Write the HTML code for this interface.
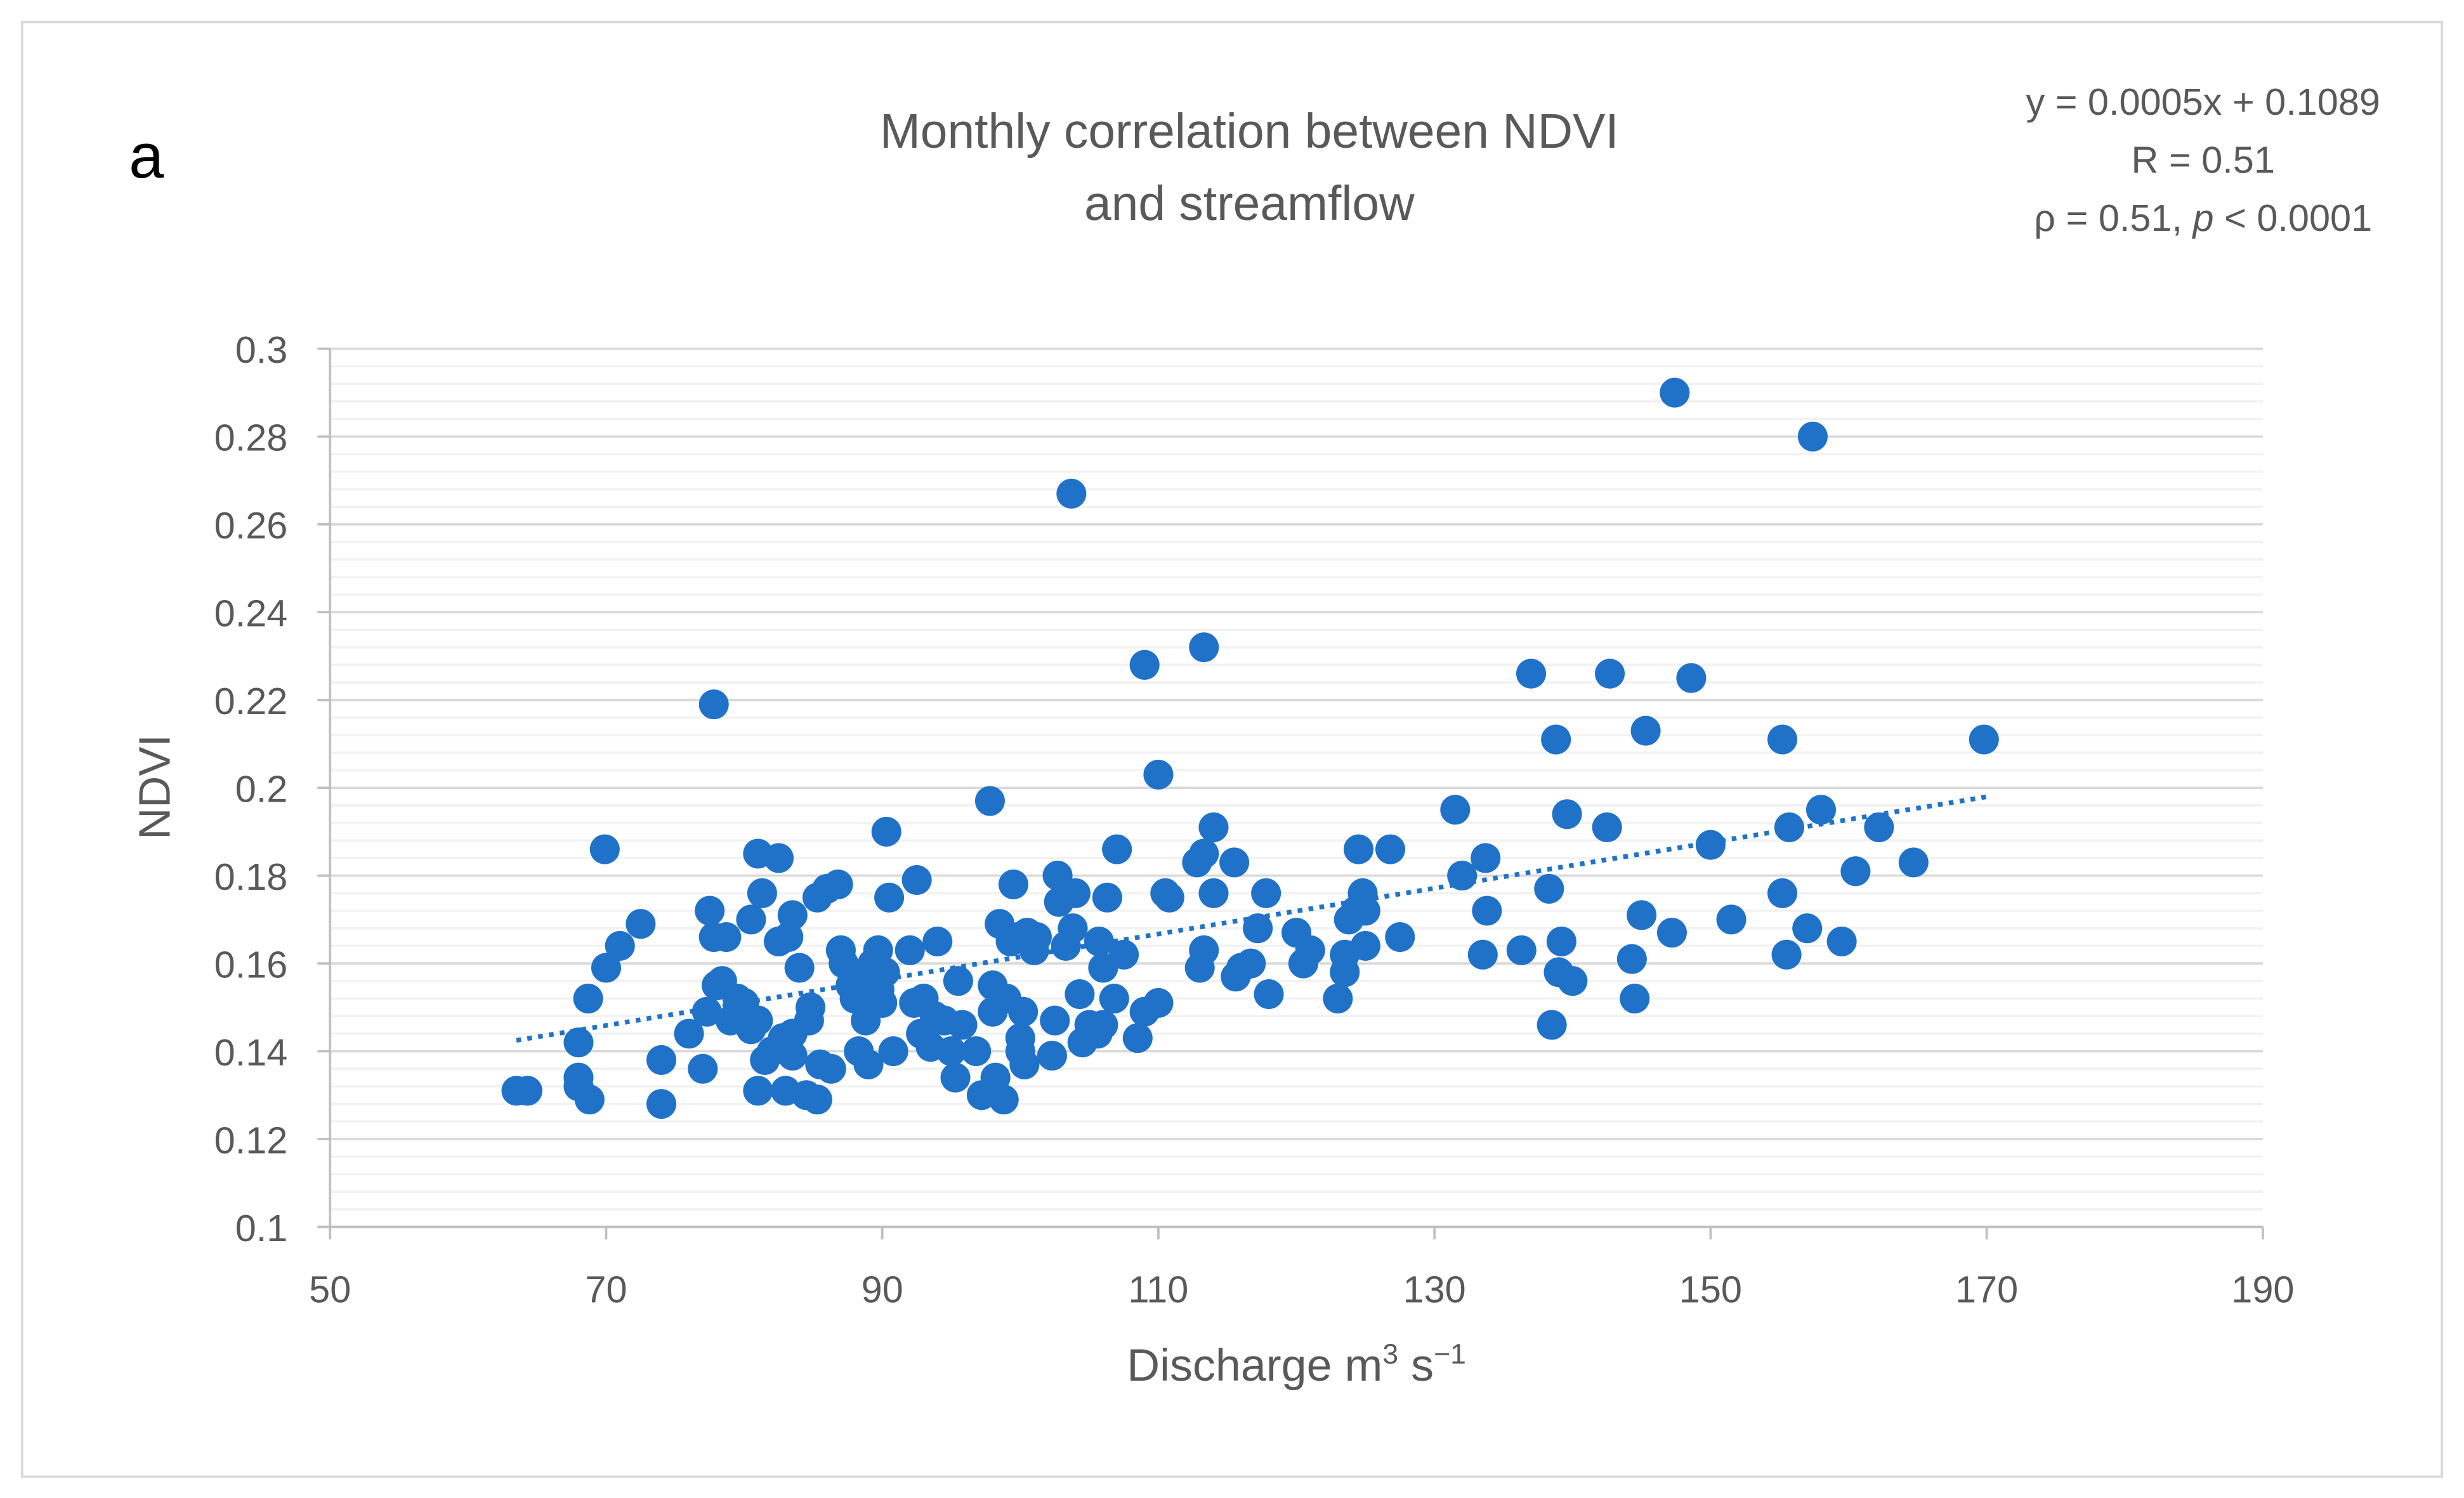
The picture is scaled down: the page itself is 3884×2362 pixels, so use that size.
<!DOCTYPE html>
<html><head><meta charset="utf-8"><style>html,body{margin:0;padding:0;background:#fff}svg{display:block}text{font-family:"Liberation Sans",sans-serif}</style></head>
<body>
<svg id="chart" width="3884" height="2362" viewBox="0 0 1568 953.6" xmlns="http://www.w3.org/2000/svg">
<rect x="14" y="14" width="1540" height="926" fill="#fff" stroke="#d9d9d9" stroke-width="1.5"/>
<text x="82" y="113" font-size="40" fill="#000">a</text>
<text x="795" y="94" font-size="31" fill="#595959" text-anchor="middle">Monthly correlation  between NDVI</text>
<text x="795" y="140" font-size="31" fill="#595959" text-anchor="middle">and streamflow</text>
<text x="1402" y="73" font-size="24" fill="#595959" text-anchor="middle">y = 0.0005x + 0.1089</text>
<text x="1402" y="110" font-size="24" fill="#595959" text-anchor="middle">R = 0.51</text>
<text x="1402" y="147" font-size="24" fill="#595959" text-anchor="middle">ρ = 0.51, <tspan font-style="italic">p</tspan> &lt; 0.0001</text>
<g id="grid"></g><g id="axes"></g><g id="trend"></g><g id="points"></g>
<text transform="translate(108,501) rotate(-90)" font-size="28" fill="#595959" text-anchor="middle">NDVI</text>
<text x="825" y="879" font-size="29" fill="#595959" text-anchor="middle">Discharge m<tspan font-size="18" dy="-11">3</tspan><tspan dy="11"> s</tspan><tspan font-size="18" dy="-11">−1</tspan></text>
</svg>
<script>
const xTicks=[50,70,90,110,130,150,170,190];
const yTicks=[0.1,0.12,0.14,0.16,0.18,0.2,0.22,0.24,0.26,0.28,0.3];
const yTickLabels=["0.1","0.12","0.14","0.16","0.18","0.2","0.22","0.24","0.26","0.28","0.3"];
const trendX=[63.5,170];
const trendSlope=0.000521, trendIntercept=0.1094;
const discharge=[63.5,64.3,68,68,68,68.8,68.7,70,69.9,71,72.5,74,74,76,77,77.3,77.5,77.8,77.8,78,78.4,78.7,79,79.5,80,80.5,80.5,81,81,81,81.3,81.5,82,82.5,82.5,82.8,83,83.2,83.5,83.5,83.5,84,84.5,84.7,84.8,85.3,85.3,85.5,86,86.3,86.8,87,87.2,87.7,88,88.3,88.5,88.8,89,89.3,89.7,89.8,90,90.2,90.3,90.5,90.8,92,92.3,92.5,92.8,93,93.5,93.8,94,94.5,95,95.3,95.5,95.8,96.8,97.2,97.8,98,98,98.2,98.5,98.8,99,99.3,99.5,99.8,100,100,100.2,100.3,100.5,101,101.2,102.3,102.5,102.7,102.8,103.3,103.7,103.8,104,104.3,104.5,105,105.6,105.7,106,106,106.3,106.8,107,107.5,108.5,109,109,110,110,110.5,110.8,112.8,113,113.3,113.3,113.3,114,114,115.5,115.6,116,116.7,117.2,117.8,118,120,120.5,121,123,123.5,123.5,123.8,124.3,124.5,124.8,125,125,126.8,127.5,131.5,132,133.5,133.7,133.8,136.3,137,138.3,138.5,138.8,139,139.2,139.6,140,142.5,142.7,144.3,144.5,145,145.3,147.2,147.4,148.6,150,151.5,155.2,155.2,155.5,155.7,157,157.4,158,159.5,160.5,162.2,164.7,169.8];
const ndvi=[0.131,0.131,0.142,0.134,0.132,0.129,0.152,0.159,0.186,0.164,0.169,0.138,0.128,0.144,0.136,0.149,0.172,0.166,0.219,0.155,0.156,0.166,0.147,0.152,0.151,0.145,0.170,0.147,0.185,0.131,0.176,0.138,0.140,0.184,0.165,0.143,0.131,0.166,0.171,0.139,0.144,0.159,0.130,0.147,0.150,0.129,0.175,0.137,0.177,0.136,0.178,0.163,0.160,0.155,0.152,0.140,0.157,0.147,0.137,0.160,0.163,0.154,0.151,0.158,0.190,0.175,0.140,0.163,0.151,0.179,0.144,0.152,0.141,0.148,0.165,0.147,0.140,0.134,0.156,0.146,0.140,0.130,0.197,0.155,0.149,0.134,0.169,0.129,0.152,0.165,0.178,0.166,0.143,0.140,0.149,0.137,0.167,0.163,0.166,0.139,0.147,0.180,0.174,0.164,0.267,0.168,0.176,0.153,0.142,0.146,0.144,0.165,0.146,0.159,0.175,0.152,0.186,0.162,0.143,0.228,0.149,0.203,0.151,0.176,0.175,0.183,0.159,0.163,0.185,0.232,0.191,0.176,0.183,0.157,0.159,0.160,0.168,0.176,0.153,0.167,0.160,0.163,0.152,0.158,0.162,0.170,0.172,0.186,0.176,0.164,0.172,0.186,0.166,0.195,0.180,0.162,0.184,0.172,0.163,0.226,0.177,0.146,0.211,0.158,0.165,0.194,0.156,0.191,0.226,0.161,0.152,0.171,0.213,0.167,0.290,0.225,0.187,0.170,0.176,0.211,0.162,0.191,0.168,0.280,0.195,0.165,0.181,0.191,0.183,0.211];
const NS="http://www.w3.org/2000/svg";
const X0=210,X1=1440,Y0=781,Y1=222,xMin=50,xMax=190,yMin=0.1,yMax=0.3;
function sx(v){return X0+(v-xMin)/(xMax-xMin)*(X1-X0);}
function sy(v){return Y0-(v-yMin)/(yMax-yMin)*(Y0-Y1);}
function mk(tag,attrs,parent,text){const e=document.createElementNS(NS,tag);for(const k in attrs)e.setAttribute(k,attrs[k]);if(text!==undefined)e.textContent=text;parent.appendChild(e);return e;}
const grid=document.getElementById('grid'),axes=document.getElementById('axes'),trend=document.getElementById('trend'),pts=document.getElementById('points');
for(let i=1;i<50;i++){if(i%5===0)continue;const v=yMin+i*0.004;
 const l=mk('line',{x1:X0,x2:X1,y1:sy(v),y2:sy(v),stroke:'#f2f2f2','stroke-width':1.5},grid);
 
 }
yTicks.forEach((v,i)=>{
 if(i>0){const g=mk('line',{x1:X0,x2:X1,y1:sy(v),y2:sy(v),stroke:'#d9d9d9','stroke-width':1.5},grid);
 
 }
 const t=mk('line',{x1:X0-8,x2:X0,y1:sy(v),y2:sy(v),stroke:'#bfbfbf','stroke-width':1.5},axes);
 
 
 const lb=mk('text',{x:183,y:sy(v)+9,'font-size':24,fill:'#595959','text-anchor':'end'},axes,yTickLabels[i]);
 
 
});
const ya=mk('line',{x1:X0,x2:X0,y1:Y1,y2:Y0,stroke:'#bfbfbf','stroke-width':1.5},axes);


const xa=mk('line',{x1:X0,x2:X1,y1:Y0,y2:Y0,stroke:'#bfbfbf','stroke-width':1.5},axes);


xTicks.forEach(v=>{
 const t=mk('line',{x1:sx(v),x2:sx(v),y1:Y0,y2:Y0+8,stroke:'#bfbfbf','stroke-width':1.5},axes);
 
 
 const lb=mk('text',{x:sx(v),y:829,'font-size':24,fill:'#595959','text-anchor':'middle'},axes,String(v));
 
 
});
const tl=mk('line',{x1:sx(trendX[0]),y1:sy(trendSlope*trendX[0]+trendIntercept),x2:sx(trendX[1]),y2:sy(trendSlope*trendX[1]+trendIntercept),stroke:'#1f73c8','stroke-width':3,'stroke-dasharray':'3 4'},trend);


discharge.forEach((d,i)=>{
 const c=mk('circle',{cx:sx(d),cy:sy(ndvi[i]),r:9.5,fill:'#1f72c8'},pts);
 
 
});
</script>
</body></html>
